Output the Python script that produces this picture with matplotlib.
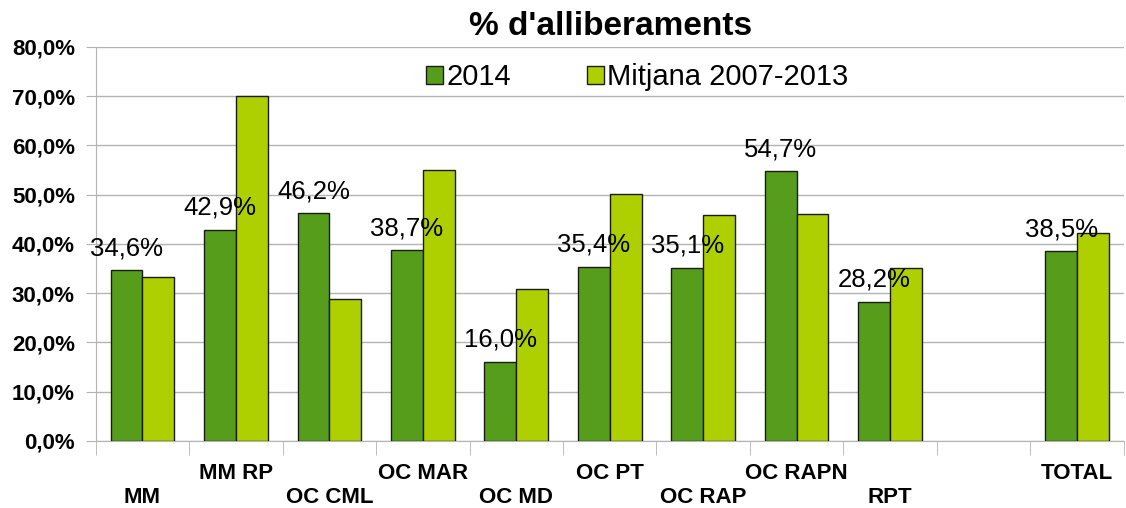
import numpy as np
import matplotlib.pyplot as plt
from matplotlib.ticker import FuncFormatter

plt.rcParams["font.family"] = ["Liberation Sans", "DejaVu Sans"]

categories = ["MM", "MM RP", "OC CML", "OC MAR", "OC MD", "OC PT",
              "OC RAP", "OC RAPN", "RPT", "", "TOTAL"]
vals_2014 = [34.6, 42.9, 46.2, 38.7, 16.0, 35.4, 35.1, 54.7, 28.2, np.nan, 38.5]
vals_mitjana = [33.3, 70.0, 28.8, 55.0, 30.8, 50.2, 45.8, 46.1, 35.0, np.nan, 42.3]
upper_row = [False, True, False, True, False, True, False, True, False, False, True]

dark = "#579d1c"
light = "#aecf00"

fig = plt.figure(figsize=(11.26, 5.08), dpi=100)
ax = fig.add_axes([0.085, 0.132, 0.913, 0.776])

x = np.arange(len(categories))
w = 0.34
ax.bar(x - w / 2, vals_2014, w, color=dark, edgecolor="#1a1a1a", linewidth=1, zorder=3)
ax.bar(x + w / 2, vals_mitjana, w, color=light, edgecolor="#1a1a1a", linewidth=1,
       zorder=3)

# data labels only for 2014 series
for xi, v in zip(x, vals_2014):
    if np.isnan(v):
        continue
    ax.annotate(f"{v:.1f}%".replace(".", ","), (xi - w / 2, v), xytext=(0, 16),
                textcoords="offset points", ha="center", va="center",
                fontsize=18.5, zorder=4)

ax.set_xlim(-0.5, len(categories) - 0.5)
ax.set_ylim(0, 80)
ax.set_yticks(np.arange(0, 81, 10))
ax.yaxis.set_major_formatter(FuncFormatter(lambda v, p: f"{v:.1f}%".replace(".", ",")))
ax.grid(axis="y", color="#b3b3b3", linewidth=1, zorder=0)

# staggered category labels
ax.set_xticks(x)
ax.set_xticklabels([c if up else "\n" + c for c, up in zip(categories, upper_row)],
                   fontsize=16, fontweight="bold", linespacing=1.18)
ax.tick_params(axis="x", which="major", length=0, pad=16)
ax.set_xticks(np.arange(-0.5, len(categories)), minor=True)
ax.tick_params(axis="x", which="minor", length=10, color="#b3b3b3", direction="out")
ax.tick_params(axis="y", length=7, color="#b3b3b3", labelsize=16, pad=8)
for lab in ax.get_yticklabels():
    lab.set_fontweight("bold")

for side in ["top", "right"]:
    ax.spines[side].set_visible(False)
ax.spines["left"].set_color("#b3b3b3")
ax.spines["bottom"].set_color("#b3b3b3")

leg = ax.legend(["2014", "Mitjana 2007-2013"], loc="center",
                bbox_to_anchor=(637 / 1126, 1 - 77 / 508),
                bbox_transform=fig.transFigure, ncol=2, frameon=True, fontsize=21,
                handlelength=0.58, handleheight=0.58, handletextpad=0.12,
                columnspacing=2.6, borderpad=0.1, fancybox=False)
leg.get_frame().set_edgecolor("white")
leg.get_frame().set_facecolor("white")
leg.get_frame().set_alpha(1)
leg.set_zorder(5)

fig.text(0.542, 0.947, "% d'alliberaments", ha="center", va="center",
         fontsize=24, fontweight="bold")

fig.savefig("out.png", dpi=100)
